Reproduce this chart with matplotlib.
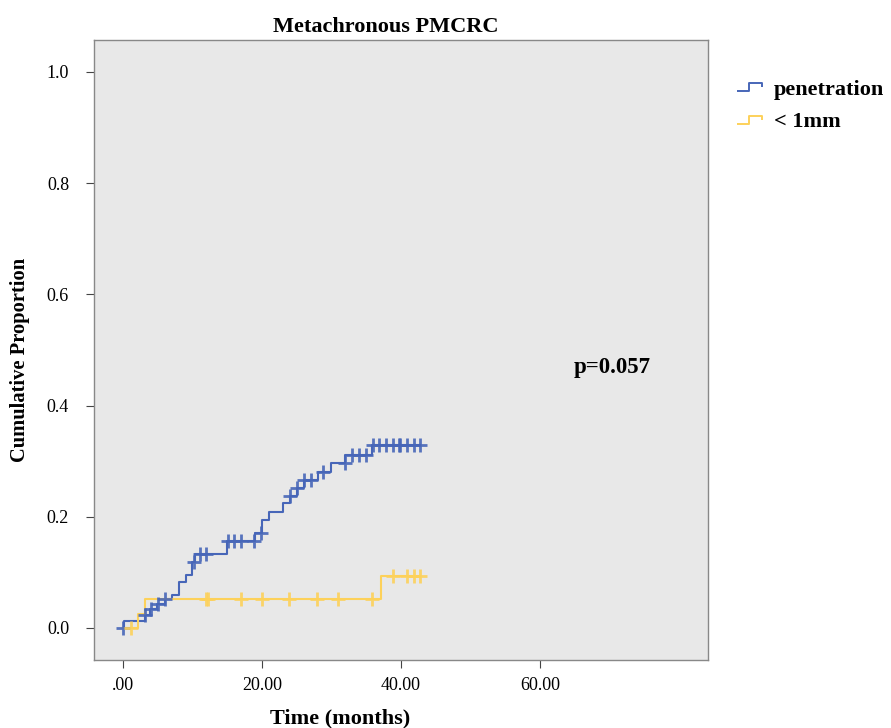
import numpy as np
import matplotlib
matplotlib.use("Agg")
import matplotlib.pyplot as plt
from matplotlib.path import Path
from matplotlib.lines import Line2D

plt.rcParams['font.family'] = ['Liberation Serif', 'DejaVu Serif']

# ---- data ----
title = "Metachronous PMCRC"
x_label = "Time (months)"
y_label = "Cumulative Proportion"
x_ticks = [0, 20, 40, 60]
x_tick_labels = [".00", "20.00", "40.00", "60.00"]
y_ticks = [0.0, 0.2, 0.4, 0.6, 0.8, 1.0]
y_tick_labels = ["0.0", "0.2", "0.4", "0.6", "0.8", "1.0"]
series_names = ["penetration", "< 1mm"]
p_text = "p=0.057"

# penetration: event times and cumulative proportion after each event
pen_times = [0.0, 0.1, 3.1, 3.9, 4.9, 6.0, 7.0, 8.1, 9.1, 10.0, 10.4, 15.0, 19.0, 20.0,
             21.0, 23.0, 24.0, 25.0, 26.0, 28.0, 30.0, 32.0, 35.9, 42.8]
pen_values = [0.0, 0.0126, 0.023, 0.034, 0.044, 0.053, 0.059, 0.083, 0.095, 0.119, 0.133,
              0.157, 0.170, 0.194, 0.209, 0.224, 0.237, 0.251, 0.266, 0.281, 0.297,
              0.312, 0.330, 0.330]
pen_censor = [0.0, 3.2, 4.1, 5.0, 6.1, 10.2, 11.1, 12.0, 15.1, 16.0, 17.0, 18.9, 19.9,
              24.0, 25.1, 26.1, 27.1, 28.8, 31.9, 32.9, 33.9, 34.9, 36.0, 36.9, 37.9,
              38.9, 39.7, 39.9, 40.8, 41.9, 42.8]

# < 1mm
mm_times = [0.0, 2.1, 3.1, 37.1, 42.8]
mm_values = [0.0, 0.026, 0.053, 0.094, 0.094]
mm_censor = [1.1, 12.0, 12.2, 17.0, 20.0, 23.9, 27.9, 31.0, 35.9, 38.9, 40.8, 41.9, 42.8]

colors = ["#4766B8", "#FDD15A"]

# ---- figure ----
fig = plt.figure(figsize=(8.91, 7.28), dpi=100)
ax = fig.add_axes([0.1055, 0.0934, 0.6891, 0.8517])
ax.set_facecolor("#E8E8E8")


def censor_y(times, values, ct):
    t = np.asarray(times)
    v = np.asarray(values)
    idx = np.searchsorted(t, ct, side='right') - 1
    idx = np.clip(idx, 0, len(v) - 1)
    return v[idx]


for times, values, cens, col in [(pen_times, pen_values, pen_censor, colors[0]),
                                 (mm_times, mm_values, mm_censor, colors[1])]:
    ax.step(times, values, where='post', color=col, lw=1.5, zorder=3)
    ax.plot(cens, censor_y(times, values, cens), linestyle='none', marker='+',
            markersize=10.5, markeredgewidth=2.0, color=col, alpha=0.9, zorder=4)

ax.set_xlim(-4.17, 84.17)
ax.set_ylim(-0.0576, 1.0576)
ax.set_xticks(x_ticks)
ax.set_xticklabels(x_tick_labels, fontsize=13)
ax.set_yticks(y_ticks)
ax.set_yticklabels(y_tick_labels, fontsize=13)
ax.tick_params(axis='y', direction='out', length=6, width=0.8, color='#444444', pad=12)
ax.tick_params(axis='x', direction='out', length=6, width=0.8, color='#444444', pad=6)
for s in ax.spines.values():
    s.set_color('#888888')
    s.set_linewidth(1.0)

ax.set_title(title, fontsize=16, fontweight='bold', pad=6)
ax.title.set_x(0.4756)
ax.set_xlabel(x_label, fontsize=16, fontweight='bold', labelpad=11, x=0.4007)
ax.set_ylabel(y_label, fontsize=14.8, fontweight='bold', labelpad=12, y=0.4839)

ax.text(70.4, 0.468, p_text, fontsize=16.5, fontweight='bold', ha='center', va='center')

# legend with step-shaped icons
step_marker = Path([(-1.0, -0.3), (0.0, -0.3), (0.0, 0.3), (1.0, 0.3), (1.0, 0.0)])
handles = [Line2D([], [], linestyle='none', marker=step_marker, markersize=18,
                  markerfacecolor='none', markeredgecolor=c, markeredgewidth=1.4)
           for c in colors]
leg = fig.legend(handles, series_names, loc='upper left', bbox_to_anchor=(0.800, 0.919),
                 frameon=False, prop={'size': 16, 'weight': 'bold'},
                 handletextpad=0.35, labelspacing=0.55, handlelength=1.5)

fig.savefig("out.png", dpi=100)
